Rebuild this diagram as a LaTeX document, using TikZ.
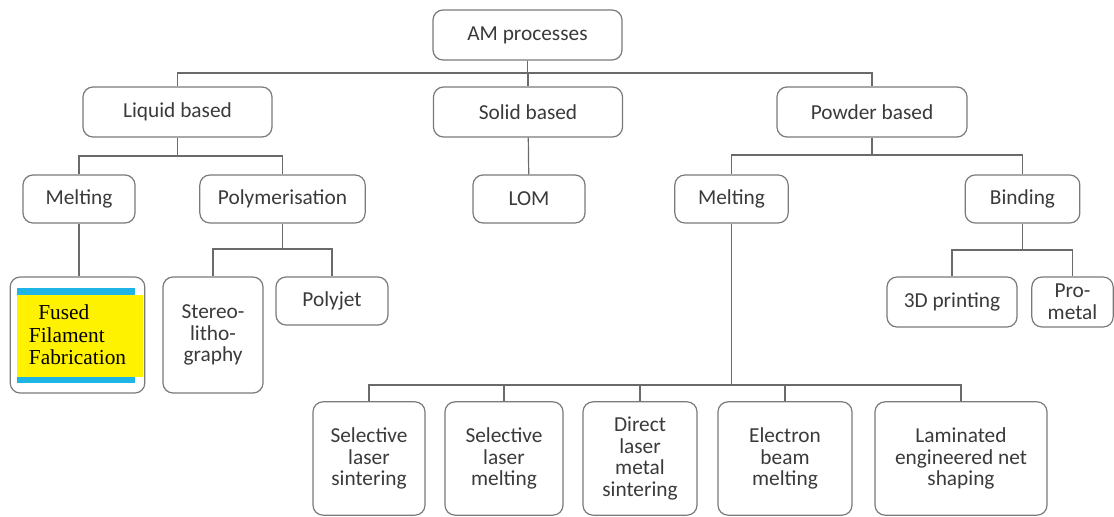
\documentclass[tikz,border=0pt]{standalone}
\usepackage{fontspec}
\setmainfont{Carlito}
\newfontfamily\fffont{Liberation Serif}
\usepackage{tikz}
\usetikzlibrary{positioning}
\definecolor{boxline}{HTML}{7A7A7A}
\definecolor{treeline}{HTML}{6A6A6A}
\definecolor{txtgray}{HTML}{3A3A3A}
\definecolor{fffblue}{HTML}{1EB4E6}
\definecolor{fffyellow}{HTML}{FFF200}
\tikzstyle{procbox} = [rectangle, rounded corners=7.5pt, draw=boxline, line width=0.9pt, align=center, text=txtgray, font=\fontsize{16}{16.3}\selectfont, inner sep=1pt]
\tikzstyle{link} = [draw=treeline, line width=0.9pt]

\begin{document}
\begin{tikzpicture}[x=0.75pt,y=-0.75pt]
\useasboundingbox (0,0) rectangle (1114,517);
% top levels
\node (am) [procbox, minimum width=141.75pt, minimum height=37.5pt] at (527.5,35) {AM processes};
\node (liquid) [procbox, minimum width=141.75pt, minimum height=37.5pt] at (177.5,112) {Liquid based};
\node (solid) [procbox, minimum width=141.75pt, minimum height=37.5pt] at (528,112) {Solid based};
\node (powder) [procbox, minimum width=142.5pt, minimum height=37.5pt] at (872,112) {Powder based};
% second level
\node (meltL) [procbox, minimum width=84pt, minimum height=36pt] at (79,199) {Melting};
\node (poly) [procbox, minimum width=124pt, minimum height=36pt] at (282.5,199) {Polymerisation};
\node (lom) [procbox, minimum width=84pt, minimum height=36pt] at (529,199) {LOM};
\node (meltR) [procbox, minimum width=85pt, minimum height=36pt] at (731.5,199) {Melting};
\node (bind) [procbox, minimum width=86pt, minimum height=36pt] at (1022.5,199) {Binding};
% fused filament box
\fill[fffblue] (17,288) rectangle (135,383);
\fill[fffyellow] (17,295) rectangle (143,377);
\node (fff) [procbox, minimum width=101pt, minimum height=87pt, font=\fffont\fontsize{16}{16.8}\selectfont, text=black, align=left] at (77.5,335) {\hspace*{7pt}Fused\\Filament\\Fabrication};
\node (stereo) [procbox, minimum width=75pt, minimum height=87pt] at (213,335) {Stereo-\\litho-\\graphy};
\node (polyjet) [procbox, minimum width=84pt, minimum height=36pt] at (332,301) {Polyjet};
\node (print3d) [procbox, minimum width=97.5pt, minimum height=37.5pt] at (952,302) {3D printing};
\node (prometal) [procbox, minimum width=61pt, minimum height=37.5pt] at (1072.5,302) {Pro-\\metal};
% bottom row
\node (sls) [procbox, minimum width=84pt, minimum height=85pt] at (369,458.5) {Selective\\laser\\sintering};
\node (slm) [procbox, minimum width=88.5pt, minimum height=85pt] at (504,458.5) {Selective\\laser\\melting};
\node (dlms) [procbox, minimum width=85.5pt, minimum height=85pt] at (640,458.5) {Direct\\laser\\metal\\sintering};
\node (ebm) [procbox, minimum width=100.5pt, minimum height=85pt] at (785,458.5) {Electron\\beam\\melting};
\node (lens) [procbox, minimum width=129pt, minimum height=85pt] at (961,458.5) {Laminated\\engineered net\\shaping};
% connectors
\foreach \child in {liquid,solid,powder}
  \draw [link] (am.south) -- (am.south |- 0,73) -| (\child.north);
\foreach \child in {meltL,poly}
  \draw [link] (liquid.south) -- (liquid.south |- 0,156) -| (\child.north);
\foreach \child in {meltR,bind}
  \draw [link] (powder.south) -- (powder.south |- 0,155) -| (\child.north);
\draw [link] (solid) -- (lom);
\draw [link] (meltL) -- (meltL |- fff.north);
\foreach \child in {stereo,polyjet}
  \draw [link] (poly.south) -- (poly.south |- 0,249) -| (\child.north);
\foreach \child in {print3d,prometal}
  \draw [link] (bind.south) -- (bind.south |- 0,250) -| (\child.north);
\foreach \child in {sls,slm,dlms,ebm,lens}
  \draw [link] (meltR.south) -- (meltR.south |- 0,385) -| (\child.north);
\end{tikzpicture}
\end{document}
